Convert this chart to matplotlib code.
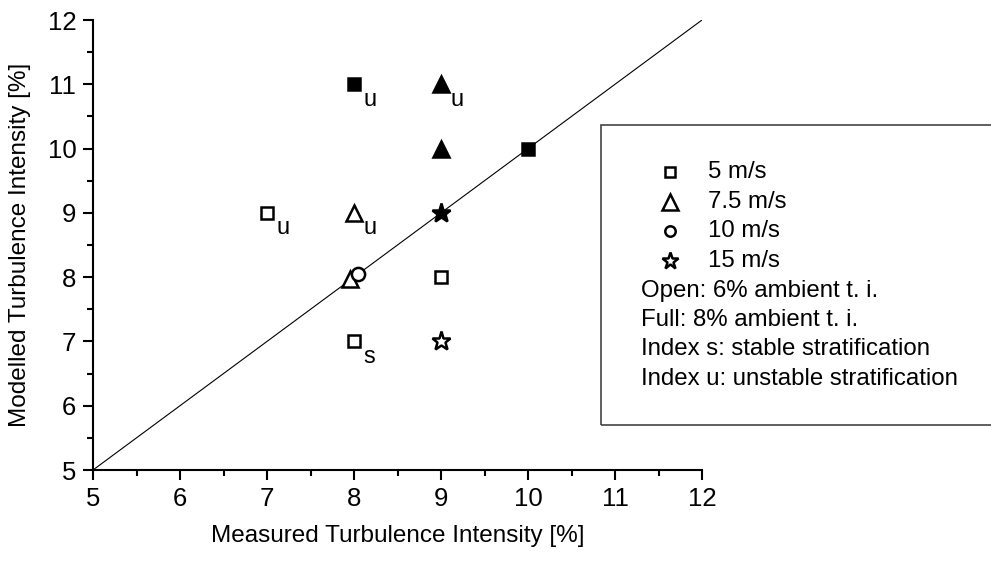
import matplotlib.pyplot as plt
from matplotlib.patches import Rectangle

plt.rcParams['font.family'] = ['Liberation Sans', 'DejaVu Sans']

# data points: (x, y, marker, filled, index label)
xs =      [7,   8,   9,   8,   10,  8,   7.95, 9,   9,   8.05, 9,   9]
ys =      [9,   7,   8,   11,  10,  9,   7.97, 11,  10,  8.05, 9,   7]
markers = ['s', 's', 's', 's', 's', '^', '^',  '^', '^', 'o',  '*', '*']
filled =  [0,   0,   0,   1,   1,   0,   0,    1,   1,   0,    1,   0]
idx =     ['u', 's', '',  'u', '',  'u', '',   'u', '',  '',   '',  '']

leg_markers = ['s', '^', 'o', '*']
leg_labels = ['5 m/s', '7.5 m/s', '10 m/s', '15 m/s']
notes = ['Open: 6% ambient t. i.', 'Full: 8% ambient t. i.',
         'Index s: stable stratification', 'Index u: unstable stratification']

fig = plt.figure(figsize=(9.91, 5.61), dpi=100)
ax = fig.add_axes([93/991, 1 - 470/561, (702 - 93)/991, (470 - 20)/561])

ax.plot([5, 12], [5, 12], color='black', lw=0.8)

sizes = {'s': 8.5, '^': 12, 'o': 9.5, '*': 14}
for x, y, m, f, lab in zip(xs, ys, markers, filled, idx):
    ax.plot(x, y, marker=m, ms=sizes[m], mec='black', mew=1.8,
            mfc='black' if f else 'white', ls='none', zorder=3)
    if lab:
        ax.annotate(lab, (x, y), xytext=(7, -11), textcoords='offset points',
                    fontsize=17, va='center', ha='left')

ax.set_xlim(5, 12)
ax.set_ylim(5, 12)
ax.set_xticks(range(5, 13))
ax.set_yticks(range(5, 13))
ax.set_xticks([x + 0.5 for x in range(5, 12)], minor=True)
ax.set_yticks([y + 0.5 for y in range(5, 12)], minor=True)
ax.tick_params(which='major', direction='out', length=7, width=1.5, labelsize=18.5, pad=5)
ax.tick_params(which='minor', direction='out', length=4, width=1.5)
ax.spines['top'].set_visible(False)
ax.spines['right'].set_visible(False)
ax.spines['left'].set_linewidth(1.5)
ax.spines['bottom'].set_linewidth(1.5)
ax.set_xlabel('Measured Turbulence Intensity [%]', fontsize=17.5, labelpad=10)
ax.set_ylabel('Modelled Turbulence Intensity [%]', fontsize=17.5, labelpad=12)

# legend box
fig.patches.append(Rectangle((601/991, 1 - 425/561), 400/991, 300/561,
                             transform=fig.transFigure, fill=False,
                             ec='#444444', lw=1.2))
lax = fig.add_axes([0, 0, 1, 1])
lax.set_xlim(0, 991)
lax.set_ylim(561, 0)
lax.axis('off')
leg_sizes = {'s': 7, '^': 11, 'o': 7.5, '*': 12.5}
row_y = 172
for m, lab in zip(leg_markers, leg_labels):
    lax.plot(670, row_y, marker=m, ms=leg_sizes[m], mec='black', mew=1.8,
             mfc='white', ls='none')
    lax.text(708, row_y, lab, fontsize=17.3, va='center', ha='left')
    row_y += 29.7
for n in notes:
    lax.text(641, row_y, n, fontsize=17.3, va='center', ha='left')
    row_y += 29.3

plt.savefig('out.png', dpi=100)
